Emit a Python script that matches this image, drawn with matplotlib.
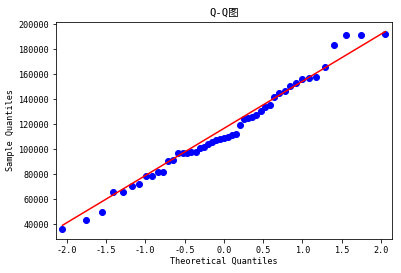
import numpy as np
import matplotlib
matplotlib.use("Agg")
import matplotlib.pyplot as plt
from statistics import NormalDist

# Sample values (sorted)
sample_values = [36000, 43200, 49600, 65700, 65700, 70600, 72200, 78600, 78600,
                 81800, 81800, 90300, 91100, 96600, 96600, 97200, 97800, 97800,
                 101200, 102000, 104200, 106000, 107100, 108400, 109200, 110000,
                 111100, 111900, 119100, 123900, 125200, 126000, 127300, 130300,
                 133500, 135000, 142000, 145200, 146500, 150500, 152600, 156100,
                 156600, 157400, 165900, 183000, 191700, 191700, 192500]

title_text = "Q-Q图"
x_label = "Theoretical Quantiles"
y_label = "Sample Quantiles"

plt.rcParams['axes.unicode_minus'] = False
fam = ['DejaVu Sans Mono', 'Noto Sans CJK SC']
plt.rcParams['font.family'] = fam

y = np.sort(np.array(sample_values, dtype=float))
n = len(y)
nd = NormalDist()
q = np.array([nd.inv_cdf(i / (n + 1)) for i in range(1, n + 1)])

# 'q' reference line through the quartiles
y25, y75 = np.percentile(y, [25, 75])
t25, t75 = nd.inv_cdf(0.25), nd.inv_cdf(0.75)
slope = (y75 - y25) / (t75 - t25)
intercept = y25 - slope * t25

fig = plt.figure(figsize=(401 / 72, 273 / 72), dpi=72)
ax = fig.add_axes([56 / 401, (273 - 239) / 273, 335.7 / 401, 217.3 / 273])

ax.plot(q, y, marker='o', linestyle='none', markerfacecolor='b',
        markeredgecolor='b', markersize=6)
ax.plot(q, intercept + slope * q, 'r-', linewidth=1.5)
ax.set_xmargin(0.02)

ax.set_title(title_text, fontsize=10.5, family=fam)
ax.set_xlabel(x_label, fontsize=8.5, labelpad=2)
ax.set_ylabel(y_label, fontsize=8.5, labelpad=3)
ax.tick_params(labelsize=8.5)

fig.savefig("out.png", dpi=72)
